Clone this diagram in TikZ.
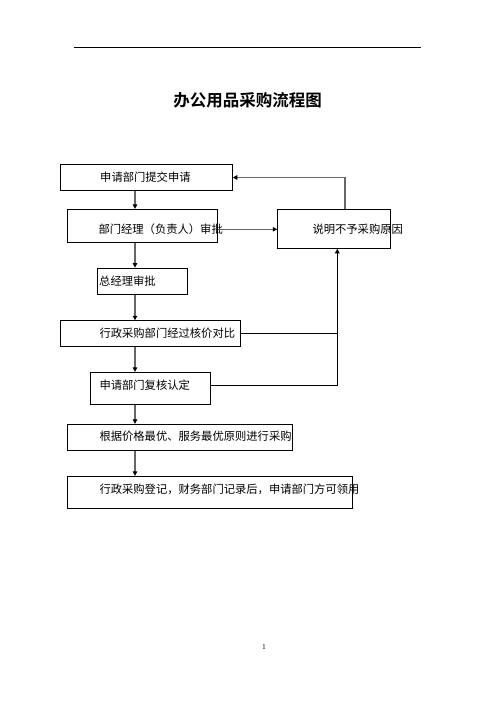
\documentclass[tikz,border=0pt]{standalone}
\usepackage{fontspec}
\setmainfont{Liberation Serif}
\newfontfamily\cjk{Noto Sans CJK SC}[BoldFont={Noto Sans CJK SC Bold}]
\usetikzlibrary{arrows.meta}
\begin{document}
\begin{tikzpicture}[x=1pt,y=-1pt,
  box/.style={draw=black,line width=0.9pt,inner sep=0pt,fill=none},
  txt/.style={anchor=west,inner sep=0pt,font=\cjk\fontsize{11.3}{12}\selectfont},
  garr/.style={draw=black!60,line width=1.6pt,-{Triangle[length=4.5pt,width=4.5pt,color=black]}},
  barr/.style={draw=black,line width=0.9pt,-{Triangle[length=4.5pt,width=4.5pt]}},
  bline/.style={draw=black,line width=0.9pt}]
\useasboundingbox (0,0) rectangle (496,702);
% header
\draw[line width=0.8pt] (74,47) coordinate (hl) -- (421,47) coordinate (hr);
\node[text=black!35,font=\fontsize{4}{4}\selectfont] (hdots) at (262,41) {. . .};
\node[font=\cjk\bfseries\fontsize{16.5}{18}\selectfont] (title) at (247.5,100) {办公用品采购流程图};
% boxes
\node[box,minimum width=171.6pt,minimum height=25.6pt] (b1) at (146.5,177.5) {};
\node[box,minimum width=150pt,minimum height=32.7pt] (b2) at (142.3,225.7) {};
\node[box,minimum width=112.6pt,minimum height=39pt] (b3) at (334,228.8) {};
\node[box,minimum width=90pt,minimum height=26.3pt] (b4) at (142.3,281.2) {};
\node[box,minimum width=180pt,minimum height=25.6pt] (b5) at (150.7,333.5) {};
\node[box,minimum width=120.4pt,minimum height=32pt] (b6) at (150.5,388.3) {};
\node[box,minimum width=225pt,minimum height=26pt] (b7) at (179.8,437.3) {};
\node[box,minimum width=285pt,minimum height=32pt] (b8) at (209.8,492.3) {};
% texts
\node[txt] (t1) at (100,177.5) {申请部门提交申请};
\node[txt] (t2) at (98.3,229.3) {部门经理（负责人）审批};
\node[txt] (t3) at (312.3,229.3) {说明不予采购原因};
\node[txt] (t4) at (99,281) {总经理审批};
\node[txt] (t5) at (99.3,333.3) {行政采购部门经过核价对比};
\node[txt] (t6) at (99.3,385.3) {申请部门复核认定};
\node[txt] (t7) at (99.3,436.7) {根据价格最优、服务最优原则进行采购};
\node[txt] (t8) at (99.3,489) {行政采购登记，财务部门记录后，申请部门方可领用};
% guide coordinates
\coordinate (spine) at (135,0);
\coordinate (fb) at (345,0);
\coordinate (rx) at (337.3,0);
% spine arrows
\draw[garr] (b1.south -| spine) -- (b2.north -| spine);
\draw[garr] (b2.south -| spine) -- (b4.north -| spine);
\draw[garr] (b4.south -| spine) -- (b5.north -| spine);
\draw[garr] (b5.south -| spine) -- (b6.north -| spine);
\draw[garr] (b6.south -| spine) -- (b7.north -| spine);
\draw[garr] (b7.south -| spine) -- (b8.north -| spine);
% side arrows
\draw[garr] (b2.east |- 0,229.3) -- (b3.west |- 0,229.3);
\draw[garr] (b3.north -| fb) |- (b1.east);
\draw[bline] (b5.east) -- (b5.east -| rx);
\draw[barr] (b6.east |- 0,385.3) -| (b3.south -| rx);
% page number
\node[font=\fontsize{7.5}{8}\selectfont] (pg) at (264,647) {1};
\end{tikzpicture}
\end{document}
